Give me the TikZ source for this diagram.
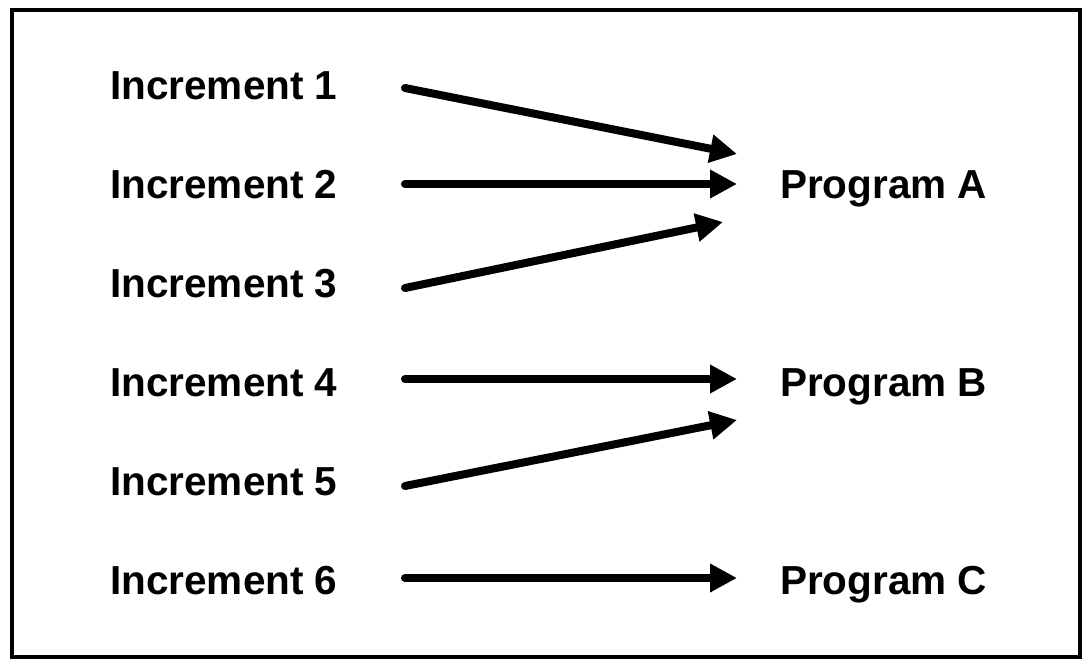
\documentclass[tikz,border=0pt]{standalone}
\usepackage{fontspec}
\setmainfont{Liberation Sans}
\usetikzlibrary{arrows.meta}
\begin{document}
\begin{tikzpicture}[x=1pt,y=-1pt,
  label/.style={font=\fontsize{40.5}{44}\selectfont\bfseries, inner sep=0pt, anchor=base west},
  flow/.style={line width=8pt, line cap=round, -{Triangle[length=27pt,width=27pt]}},
  frame/.style={line width=4pt}]
\useasboundingbox (0,0) rectangle (1084,662);
% outer frame
\draw[frame] (12,10) rectangle (1080,657);

% increments
\node[label] (i1) at (110,99)  {Increment 1};
\node[label] (i2) at (110,198) {Increment 2};
\node[label] (i3) at (110,297) {Increment 3};
\node[label] (i4) at (110,396) {Increment 4};
\node[label] (i5) at (110,495) {Increment 5};
\node[label] (i6) at (110,594) {Increment 6};

% programs
\node[label] (pa) at (780,198) {Program A};
\node[label] (pb) at (780,396) {Program B};
\node[label] (pc) at (780,594) {Program C};

% arrow end points
\coordinate (s1) at (405,88);
\coordinate (s2) at (405,184);
\coordinate (s3) at (405,288);
\coordinate (s4) at (405,379);
\coordinate (s5) at (405,486);
\coordinate (s6) at (405,578);
\coordinate (e1) at (737,154);
\coordinate (e2) at (737,184);
\coordinate (e3) at (723,222);
\coordinate (e4) at (737,379);
\coordinate (e5) at (737,420);
\coordinate (e6) at (737,578);

\foreach \k in {1,...,6} \draw[flow] (s\k) -- (e\k);
\end{tikzpicture}
\end{document}
